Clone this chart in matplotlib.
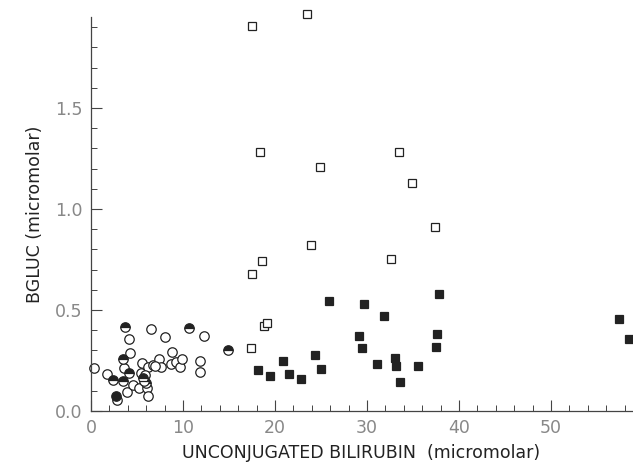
import numpy as np
import matplotlib.pyplot as plt
from matplotlib.ticker import MultipleLocator

# open circles
oc_x = [0.3, 1.7, 2.8, 4.1, 4.2, 3.6, 3.9, 4.6, 5.5, 5.4, 5.2, 6.1, 6.2, 6.2, 6.7,
        6.5, 7.4, 7.6, 8.0, 8.8, 8.7, 9.2, 9.7, 9.9, 11.9, 11.9, 12.3, 5.9, 7.0]
oc_y = [0.213, 0.183, 0.054, 0.355, 0.287, 0.213, 0.094, 0.128, 0.236, 0.19, 0.113,
        0.114, 0.074, 0.218, 0.228, 0.406, 0.257, 0.218, 0.367, 0.292, 0.233, 0.243,
        0.218, 0.257, 0.248, 0.193, 0.371, 0.178, 0.225]
# half filled circles
hc_x = [2.4, 3.7, 3.5, 4.1, 3.5, 5.7, 6.0, 10.7, 14.9, 5.8]
hc_y = [0.153, 0.415, 0.257, 0.188, 0.148, 0.163, 0.139, 0.411, 0.302, 0.15]
# filled circles
fc_x = [2.7]
fc_y = [0.073]

# open squares
os_x = [17.5, 23.5, 18.4, 24.9, 33.5, 34.9, 23.9, 18.6, 17.5, 32.6, 37.4, 18.8, 19.1, 17.4]
os_y = [1.906, 1.965, 1.28, 1.21, 1.28, 1.13, 0.82, 0.74, 0.68, 0.75, 0.91, 0.42, 0.435, 0.31]
# filled squares
fs_x = [25.9, 29.7, 31.8, 37.8, 29.1, 29.5, 37.6, 37.5, 24.4, 20.9, 18.1, 19.5, 21.5,
        22.8, 25.0, 31.1, 33.0, 33.2, 33.6, 35.5, 57.4, 58.5]
fs_y = [0.545, 0.53, 0.47, 0.58, 0.37, 0.31, 0.38, 0.315, 0.277, 0.248, 0.204, 0.175,
        0.184, 0.157, 0.208, 0.233, 0.262, 0.223, 0.143, 0.223, 0.455, 0.356]

fig = plt.figure(figsize=(6.33, 4.66), dpi=100)
ax = fig.add_axes([91/633, 55/466, 541/633, 394/466])

ax.plot(oc_x, oc_y, 'o', ms=6.8, mfc='white', mec='#222222', mew=0.9, clip_on=False)
ax.plot(hc_x, hc_y, 'o', ms=6.8, fillstyle='top', mfc='#222222', mfcalt='white',
        mec='#222222', mew=0.9, clip_on=False)
ax.plot(fc_x, fc_y, 'o', ms=6.8, mfc='#222222', mec='#222222', mew=0.9, clip_on=False)
ax.plot(os_x, os_y, 's', ms=6, mfc='white', mec='#222222', mew=0.9, clip_on=False)
ax.plot(fs_x, fs_y, 's', ms=6, mfc='#222222', mec='#222222', mew=0.9, clip_on=False)

ax.set_xlim(0, 58.8)
ax.set_ylim(0, 1.95)
ax.spines['top'].set_visible(False)
ax.spines['right'].set_visible(False)
for s in ['left', 'bottom']:
    ax.spines[s].set_color('#444444')
    ax.spines[s].set_linewidth(0.9)

ax.xaxis.set_major_locator(MultipleLocator(10))
ax.xaxis.set_minor_locator(MultipleLocator(2))
ax.yaxis.set_major_locator(MultipleLocator(0.5))
ax.yaxis.set_minor_locator(MultipleLocator(0.1))
ax.set_yticks([0, 0.5, 1.0, 1.5])
ax.set_yticklabels(['0.0', '0.5', '1.0', '1.5'])
ax.tick_params(which='major', direction='in', length=8, width=0.8, color='#444444',
               labelsize=12.5, labelcolor='#888888', pad=6)
ax.tick_params(which='minor', direction='in', length=4, width=0.7, color='#444444')

ax.set_xlabel('UNCONJUGATED BILIRUBIN  (micromolar)', fontsize=12.5, color='#222222', labelpad=5)
ax.set_ylabel('BGLUC (micromolar)', fontsize=12.5, color='#222222', labelpad=8)

fig.savefig('out.png', dpi=100)
